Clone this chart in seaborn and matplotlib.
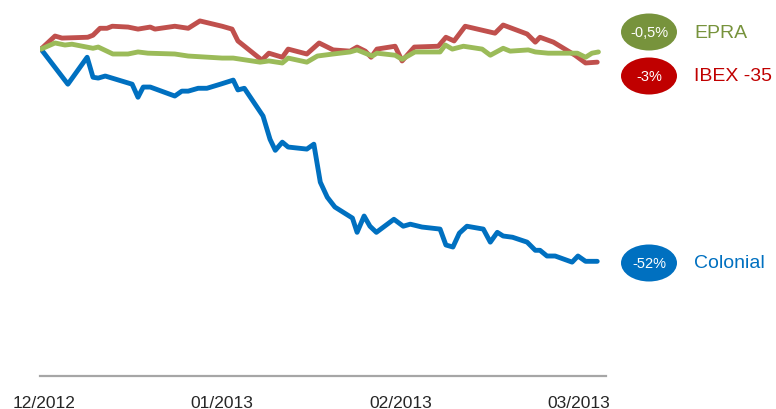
import matplotlib
matplotlib.use("Agg")
import matplotlib.pyplot as plt
from matplotlib.patches import Ellipse
import seaborn as sns
import pandas as pd

# ---- data (day offset from start, % change) ----
colonial_days = [0, 4.6, 7.9, 8.9, 9.8, 11.0, 15.6, 16.6, 17.5, 18.7, 22.9, 24.1, 25.2, 26.9,
                 28.4, 30.7, 32.9, 33.7, 34.8, 38.0, 39.2, 40.1, 41.3, 42.3, 45.5, 46.7, 47.8,
                 49.0, 50.3, 53.3, 54.1, 55.3, 56.3, 57.4, 60.4, 62.0, 63.2, 65.2, 68.3, 69.3,
                 70.5, 71.6, 72.9, 75.7, 76.9, 78.1, 79.1, 80.7, 83.2, 84.6, 85.4, 86.6, 88.0,
                 90.9, 91.9, 93.2, 95.2]
colonial_vals = [0, -8.6, -2.0, -6.9, -7.1, -6.6, -8.6, -11.8, -9.3, -9.3, -11.5, -10.3, -10.3,
                 -9.6, -9.6, -8.6, -7.6, -10.0, -9.6, -16.4, -22.1, -24.8, -22.8, -24.0, -24.5,
                 -23.3, -32.6, -36.3, -38.7, -41.4, -44.9, -40.9, -43.4, -44.9, -41.7, -43.4,
                 -42.9, -43.6, -44.1, -48.0, -48.5, -45.1, -43.4, -44.1, -47.3, -44.9, -45.8,
                 -46.1, -47.3, -49.3, -49.3, -50.7, -50.7, -52.2, -50.7, -52.0, -52.0]

ibex_days = [0, 2.4, 3.6, 8.0, 8.9, 10.1, 11.3, 12.2, 14.9, 16.6, 18.7, 19.5, 22.9, 25.2, 27.2,
             31.0, 32.7, 33.7, 37.8, 39.0, 41.3, 42.3, 45.5, 47.6, 50.0, 52.9, 54.1, 55.5, 56.5,
             57.5, 60.6, 61.8, 63.9, 68.0, 69.3, 70.7, 72.6, 77.7, 79.1, 83.2, 84.6, 85.4,
             87.7, 91.4, 93.2, 95.2]
ibex_vals = [0, 3.2, 2.7, 2.9, 3.4, 5.1, 5.1, 5.6, 5.4, 4.9, 5.4, 4.9, 5.6, 5.1, 6.9, 5.6, 4.9,
             2.0, -2.7, -1.0, -2.0, 0.0, -1.2, 1.5, -0.2, -0.5, 0.5, -0.5, -2.0, 0.0, 0.7, -2.9,
             0.5, 0.7, 2.9, 2.0, 5.6, 3.9, 5.9, 3.7, 1.7, 2.9, 1.7, -1.5, -3.4, -3.2]

epra_days = [0, 2.4, 4.1, 5.3, 8.9, 9.8, 12.3, 14.9, 16.6, 18.3, 22.9, 25.2, 31.0, 32.9, 37.5,
             39.0, 41.3, 42.3, 45.5, 47.3, 50.0, 52.9, 54.1, 56.7, 57.5, 60.6, 61.8, 64.0, 68.3,
             69.2, 70.4, 72.3, 75.5, 76.9, 79.1, 80.3, 83.4, 84.6, 86.8, 91.8, 93.2, 94.3, 95.4]
epra_vals = [0, 1.5, 1.0, 1.2, 0.2, 0.5, -1.2, -1.2, -0.7, -1.0, -1.2, -1.7, -2.2, -2.2, -3.2,
             -2.9, -3.4, -2.2, -3.2, -1.7, -1.2, -0.7, -0.2, -1.7, -1.0, -1.5, -2.5, -0.7, -0.7,
             1.0, 0.0, 0.7, 0.0, -1.5, 0.2, -0.5, -0.2, -0.7, -1.0, -1.0, -2.0, -1.0, -0.7]

tick_positions = [0.5, 31, 61.5, 92]
tick_labels = ["12/2012", "01/2013", "02/2013", "03/2013"]

series_names = ["EPRA", "IBEX -35", "Colonial"]
badge_texts = ["-0,5%", "-3%", "-52%"]

# ---- styling ----
line_colors = {"EPRA": "#9BBB59", "IBEX -35": "#C0504D", "Colonial": "#0070C0"}
badge_colors = {"EPRA": "#77933C", "IBEX -35": "#C00000", "Colonial": "#0070C0"}
label_colors = {"EPRA": "#77933C", "IBEX -35": "#C00000", "Colonial": "#0070C0"}

sns.set_style("white")
plt.rcParams["font.family"] = ["Liberation Sans", "DejaVu Sans"]

W, H = 776, 410
fig = plt.figure(figsize=(W / 100, H / 100), dpi=100)
left_px, right_px, top_px, bottom_px = 40, 606, 15, 377
ax = fig.add_axes([left_px / W, 1 - bottom_px / H, (right_px - left_px) / W, (bottom_px - top_px) / H])

frames = [
    pd.DataFrame({"day": epra_days, "value": epra_vals, "series": "EPRA"}),
    pd.DataFrame({"day": ibex_days, "value": ibex_vals, "series": "IBEX -35"}),
    pd.DataFrame({"day": colonial_days, "value": colonial_vals, "series": "Colonial"}),
]
draw_order = [2, 1, 0]
for i in draw_order:
    df = frames[i]
    name = series_names[i]
    sns.lineplot(data=df, x="day", y="value", ax=ax, color=line_colors[name],
                 linewidth=3.5, estimator=None, sort=False, legend=False,
                 solid_joinstyle="round", solid_capstyle="round")

ax.set_xlim(-0.17, 96.7)
ax.set_ylim(-80.1, 8.6)
ax.set_xlabel("")
ax.set_ylabel("")
ax.set_yticks([])
ax.set_xticks(tick_positions)
ax.set_xticklabels(tick_labels, fontsize=12.5, color="#262626")
ax.tick_params(axis="x", length=0, pad=14)
for s in ["top", "right", "left"]:
    ax.spines[s].set_visible(False)
ax.spines["bottom"].set_color("#A6A6A6")
ax.spines["bottom"].set_linewidth(1.6)

# ---- badges and labels ----
badge_cx = 649
badge_cy = {"EPRA": 33, "IBEX -35": 77, "Colonial": 264}
for name, txt in zip(series_names, badge_texts):
    cy = badge_cy[name]
    e = Ellipse((badge_cx / W, 1 - cy / H), 56 / W, 37 / H, transform=fig.transFigure,
                facecolor=badge_colors[name], edgecolor="none")
    fig.add_artist(e)
    fig.text(badge_cx / W, 1 - cy / H, txt, color="white", fontsize=10.5,
             ha="center", va="center")
    fig.text(694 / W, 1 - cy / H, name, color=label_colors[name], fontsize=14,
             ha="left", va="center")

fig.savefig("out.png", dpi=100)
